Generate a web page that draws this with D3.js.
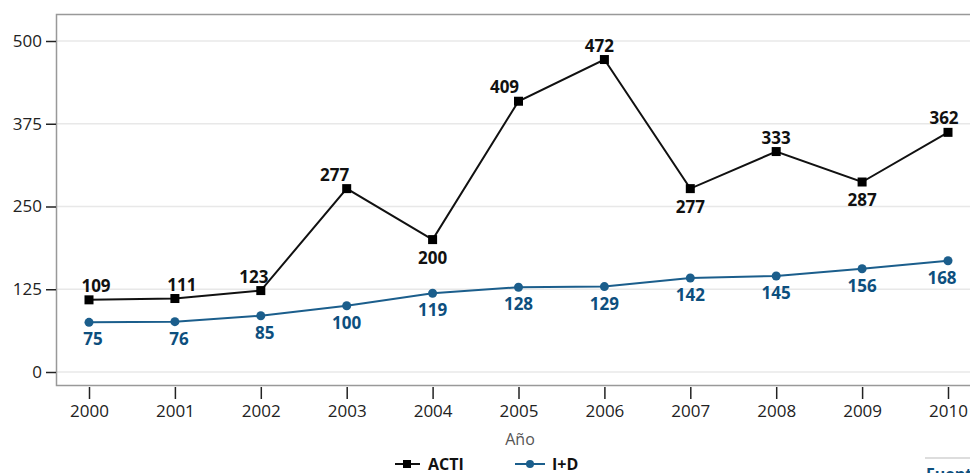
<!DOCTYPE html><html><head><meta charset="utf-8"><script src="https://cdn.jsdelivr.net/npm/d3@7"></script>
<style>body{margin:0;background:#fff;font-family:"Open Sans",sans-serif}</style></head><body><svg id="c" width="970" height="473"></svg>
<script>
const years=[2000,2001,2002,2003,2004,2005,2006,2007,2008,2009,2010];
const acti=[109,111,123,277,200,409,472,277,333,287,362];
const imd=[75,76,85,100,119,128,129,142,145,156,168];
const actiLabelBelow=[false,false,false,false,true,false,false,true,false,true,false];
const yTicks=[0,125,250,375,500];
const svg=d3.select("#c");
const x=d3.scaleLinear().domain([2000,2010]).range([89,948]);
const y=d3.scaleLinear().domain([0,500]).range([372,41]);
yTicks.forEach(t=>svg.append("line").attr("x1",57).attr("x2",970).attr("y1",y(t)).attr("y2",y(t)).attr("stroke","#e8e8e8").attr("stroke-width",1.5));
svg.append("rect").attr("x",56.5).attr("y",14.5).attr("width",930).attr("height",371).attr("fill","none").attr("stroke","#999").attr("stroke-width",1.5);
const ya=svg.append("g").attr("transform","translate(56,0)").call(d3.axisLeft(y).tickValues(yTicks).tickSize(10).tickPadding(4));
ya.select(".domain").remove();
const xa=svg.append("g").attr("transform","translate(0,387)").call(d3.axisBottom(x).tickValues(years).tickFormat(d3.format("d")).tickSize(12).tickPadding(6));
xa.select(".domain").remove();
svg.selectAll(".tick text").attr("font-family","Open Sans").attr("font-size",17).attr("fill","#222");
svg.selectAll(".tick line").attr("stroke","#222").attr("stroke-width",1.5);
svg.append("text").attr("x",520).attr("y",445).attr("text-anchor","middle").attr("font-size",16).attr("fill","#555").text("Año");
const line=d3.line().x((d,i)=>x(years[i])).y(d=>y(d));
const blue="#1b5e8c";
svg.append("path").datum(imd).attr("d",line).attr("fill","none").attr("stroke",blue).attr("stroke-width",2);
svg.append("path").datum(acti).attr("d",line).attr("fill","none").attr("stroke","#111").attr("stroke-width",2);
svg.selectAll(".sq").data(acti).enter().append("rect").attr("x",(d,i)=>x(years[i])-4.5).attr("y",d=>y(d)-4.5).attr("width",9).attr("height",9).attr("fill","#000");
svg.selectAll(".ci").data(imd).enter().append("circle").attr("cx",(d,i)=>x(years[i])).attr("cy",d=>y(d)).attr("r",4.5).attr("fill",blue);
const dxA=[7,7,-7,-12,0,-14,-5,0,0,0,-4];
svg.selectAll(".la").data(acti).enter().append("text").attr("x",(d,i)=>x(years[i])+dxA[i]).attr("y",(d,i)=>actiLabelBelow[i]?y(d)+24:y(d)-8).attr("text-anchor","middle").attr("font-weight","bold").attr("font-size",17).attr("fill","#111").text(d=>d);
svg.selectAll(".li").data(imd).enter().append("text").attr("x",(d,i)=>x(years[i])+(i<3?4:0)+(i==10?-6:0)).attr("y",d=>y(d)+23).attr("text-anchor","middle").attr("font-weight","bold").attr("font-size",17).attr("fill","#0d4f7e").text(d=>d);
const lg=svg.append("g").attr("transform","translate(0,464)");
lg.append("line").attr("x1",395).attr("x2",420).attr("stroke","#111").attr("stroke-width",2);
lg.append("rect").attr("x",403).attr("y",-4).attr("width",8).attr("height",8).attr("fill","#000");
lg.append("text").attr("x",428).attr("y",6).attr("font-weight","bold").attr("font-size",16).attr("fill","#111").text("ACTI");
lg.append("line").attr("x1",515).attr("x2",545).attr("stroke",blue).attr("stroke-width",2);
lg.append("circle").attr("cx",530).attr("r",4).attr("fill",blue);
lg.append("text").attr("x",552).attr("y",6).attr("font-weight","bold").attr("font-size",16).attr("fill","#111").text("I+D");
svg.append("line").attr("x1",925).attr("x2",970).attr("y1",458).attr("y2",458).attr("stroke","#ddd").attr("stroke-width",2);
svg.append("text").attr("x",926).attr("y",480).attr("font-weight","bold").attr("font-size",16).attr("fill","#0d4f7e").text("Fuente");
</script></body></html>
